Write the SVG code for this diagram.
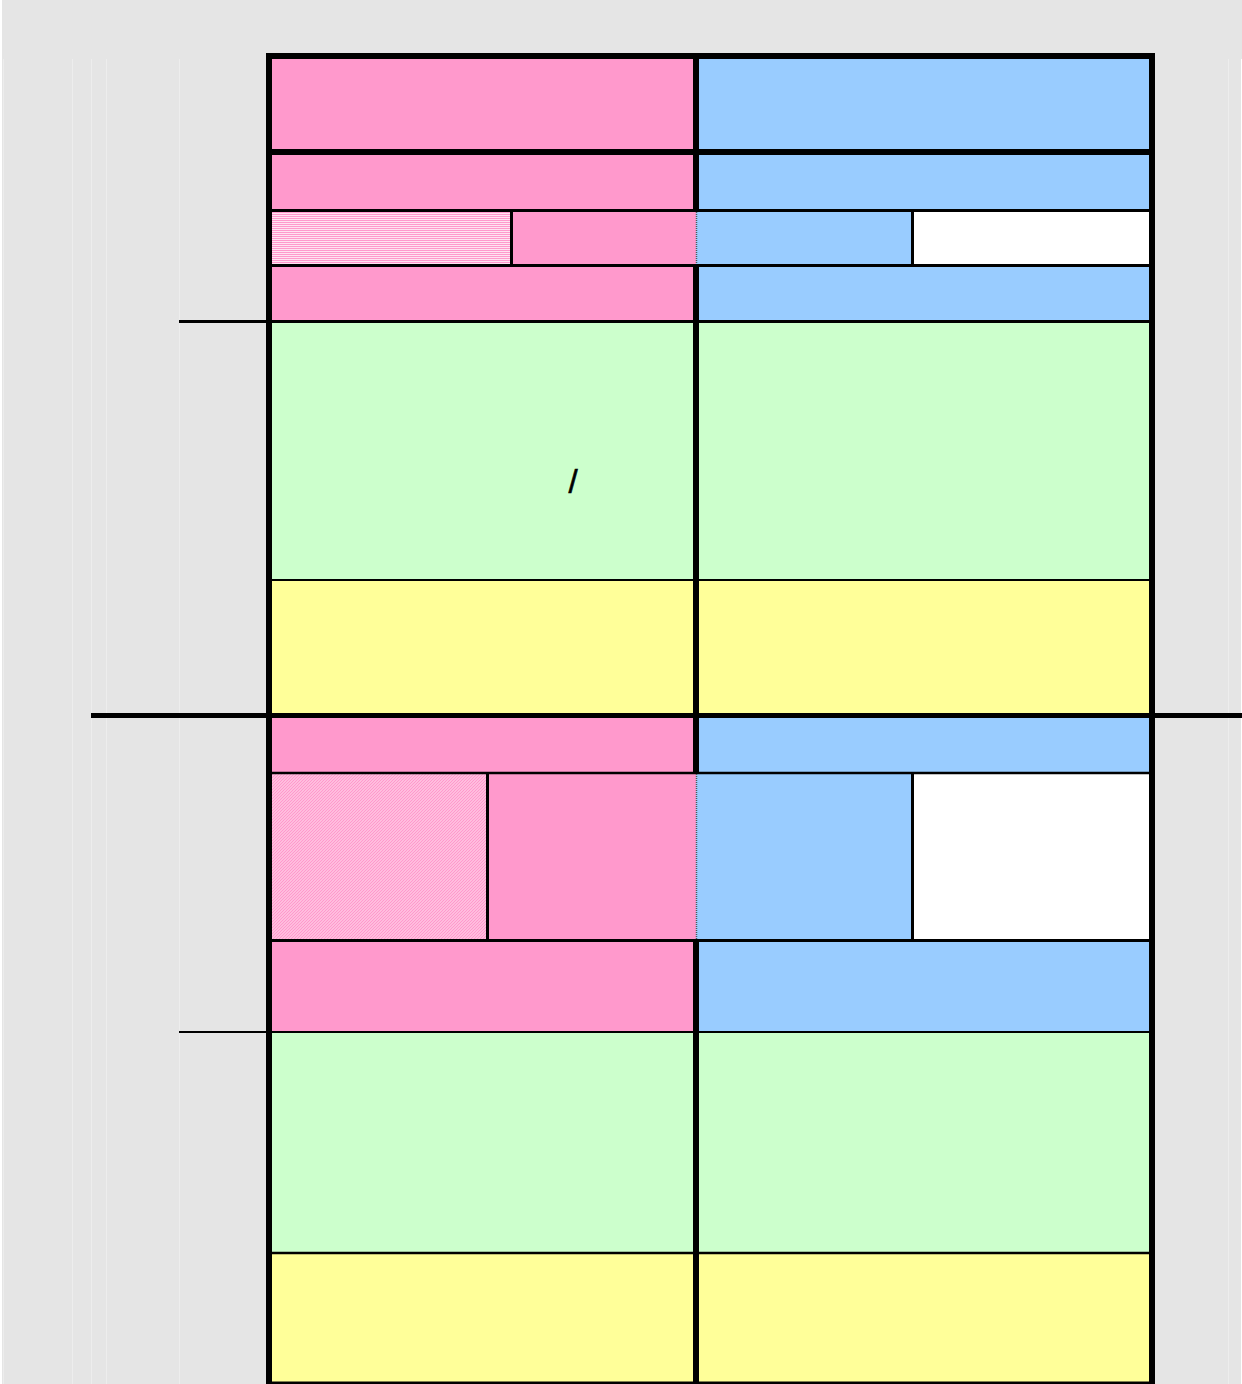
<svg xmlns="http://www.w3.org/2000/svg" width="1242" height="1384" viewBox="0 0 1242 1384">
<style>
.pk{fill:#FF99CC}
.bl{fill:#99CCFF}
.gr{fill:#CCFFCC}
.ye{fill:#FFFF99}
.wh{fill:#FFFFFF}
.ln{stroke:#000;fill:none}
.faint{stroke:#EDEDED;stroke-width:1;fill:none}
.lbl{font-family:"Liberation Sans",Arial,sans-serif;font-size:33px;fill:#000;stroke:#000;stroke-width:0.6}
</style>
<defs>
<pattern id="hstripe" width="4" height="2" patternUnits="userSpaceOnUse">
<rect width="4" height="2" fill="#FFE3F1"/>
<rect width="4" height="1" fill="#FF99CC"/>
</pattern>
<pattern id="diag" width="3" height="3" patternUnits="userSpaceOnUse">
<rect width="3" height="3" fill="#FFE6F2"/>
<path d="M0,3 L3,0 M-1,1 L1,-1 M2,4 L4,2" stroke="#FF99CC" stroke-width="1.5"/>
</pattern>
</defs>

<g id="background">
<rect x="0" y="0" width="1242" height="1384" fill="#E5E5E5"/>
<rect x="0" y="0" width="2" height="1384" fill="#FFFFFF"/>
<line class="faint" x1="3.5" y1="59" x2="3.5" y2="1384"/>
<line class="faint" x1="72.5" y1="59" x2="72.5" y2="1384"/>
<line class="faint" x1="91.5" y1="59" x2="91.5" y2="1384"/>
<line class="faint" x1="106.5" y1="59" x2="106.5" y2="1384"/>
<line class="faint" x1="179.5" y1="59" x2="179.5" y2="1384"/>
<line class="faint" x1="1228.5" y1="59" x2="1228.5" y2="1384"/>
<rect x="1241" y="59" width="1" height="1325" fill="#FFFFFF"/>
</g>

<g id="row-a">
<rect id="a-left" class="pk" x="269" y="56" width="427" height="96"/>
<rect id="a-right" class="bl" x="696" y="56" width="456" height="96"/>
</g>
<g id="row-b">
<rect id="b-left" class="pk" x="269" y="152" width="427" height="58"/>
<rect id="b-right" class="bl" x="696" y="152" width="456" height="58"/>
</g>
<g id="row-c">
<rect id="c-left-hatch" x="269" y="210" width="242" height="55" fill="url(#hstripe)"/>
<rect id="c-left" class="pk" x="511" y="210" width="185" height="55"/>
<rect id="c-right" class="bl" x="696" y="210" width="216" height="55"/>
<rect id="c-right-white" class="wh" x="912" y="210" width="240" height="55"/>
</g>
<g id="row-d">
<rect id="d-left" class="pk" x="269" y="265" width="427" height="56"/>
<rect id="d-right" class="bl" x="696" y="265" width="456" height="56"/>
</g>
<g id="row-e">
<rect id="e-left" class="gr" x="269" y="321" width="427" height="259"/>
<rect id="e-right" class="gr" x="696" y="321" width="456" height="259"/>
<text class="lbl" x="573" y="493" text-anchor="middle">/</text>
</g>
<g id="row-f">
<rect id="f-left" class="ye" x="269" y="580" width="427" height="135"/>
<rect id="f-right" class="ye" x="696" y="580" width="456" height="135"/>
</g>
<g id="row-g">
<rect id="g-left" class="pk" x="269" y="715" width="427" height="58"/>
<rect id="g-right" class="bl" x="696" y="715" width="456" height="58"/>
</g>
<g id="row-h">
<rect id="h-left-hatch" x="269" y="773" width="218" height="167" fill="url(#diag)"/>
<rect id="h-left" class="pk" x="487" y="773" width="209" height="167"/>
<rect id="h-right" class="bl" x="696" y="773" width="216" height="167"/>
<rect id="h-right-white" class="wh" x="912" y="773" width="240" height="167"/>
</g>
<g id="row-i">
<rect id="i-left" class="pk" x="269" y="940" width="427" height="92"/>
<rect id="i-right" class="bl" x="696" y="940" width="456" height="92"/>
</g>
<g id="row-j">
<rect id="j-left" class="gr" x="269" y="1032" width="427" height="221"/>
<rect id="j-right" class="gr" x="696" y="1032" width="456" height="221"/>
</g>
<g id="row-k">
<rect id="k-left" class="ye" x="269" y="1253" width="427" height="131"/>
<rect id="k-right" class="ye" x="696" y="1253" width="456" height="131"/>
</g>

<g id="connectors">
<line class="ln" stroke-width="3" x1="269" y1="210.5" x2="1152" y2="210.5"/>
<line class="ln" stroke-width="3" x1="269" y1="265.5" x2="1152" y2="265.5"/>
<line class="ln" stroke-width="3" x1="179" y1="321.5" x2="1152" y2="321.5"/>
<line class="ln" stroke-width="2" x1="269" y1="580" x2="1152" y2="580"/>
<line class="ln" stroke-width="5" x1="91" y1="715.5" x2="1242" y2="715.5"/>
<line class="ln" stroke-width="2.5" x1="269" y1="773" x2="1152" y2="773"/>
<line class="ln" stroke-width="3" x1="269" y1="940.5" x2="1152" y2="940.5"/>
<line class="ln" stroke-width="2" x1="179" y1="1032" x2="1152" y2="1032"/>
<line class="ln" stroke-width="2.5" x1="269" y1="1253" x2="1152" y2="1253"/>
<line class="ln" stroke-width="3" x1="511.5" y1="210" x2="511.5" y2="265"/>
<line class="ln" stroke-width="3" x1="912.5" y1="210" x2="912.5" y2="265"/>
<line class="ln" stroke-width="3" x1="487.5" y1="773" x2="487.5" y2="940"/>
<line class="ln" stroke-width="3" x1="912.5" y1="773" x2="912.5" y2="940"/>
<line stroke="#555" stroke-width="1.5" stroke-dasharray="1 1" x1="696.5" y1="212" x2="696.5" y2="264"/>
<line stroke="#555" stroke-width="1.5" stroke-dasharray="1 1" x1="696.5" y1="774" x2="696.5" y2="939"/>
<line class="ln" stroke-width="6" x1="696" y1="56" x2="696" y2="212"/>
<line class="ln" stroke-width="6" x1="696" y1="264" x2="696" y2="774"/>
<line class="ln" stroke-width="6" x1="696" y1="939" x2="696" y2="1384"/>
<line class="ln" stroke-width="6" x1="269" y1="152" x2="1152" y2="152"/>
<rect class="ln" stroke-width="6" x="269" y="56" width="883" height="1328.5"/>
</g>
</svg>
